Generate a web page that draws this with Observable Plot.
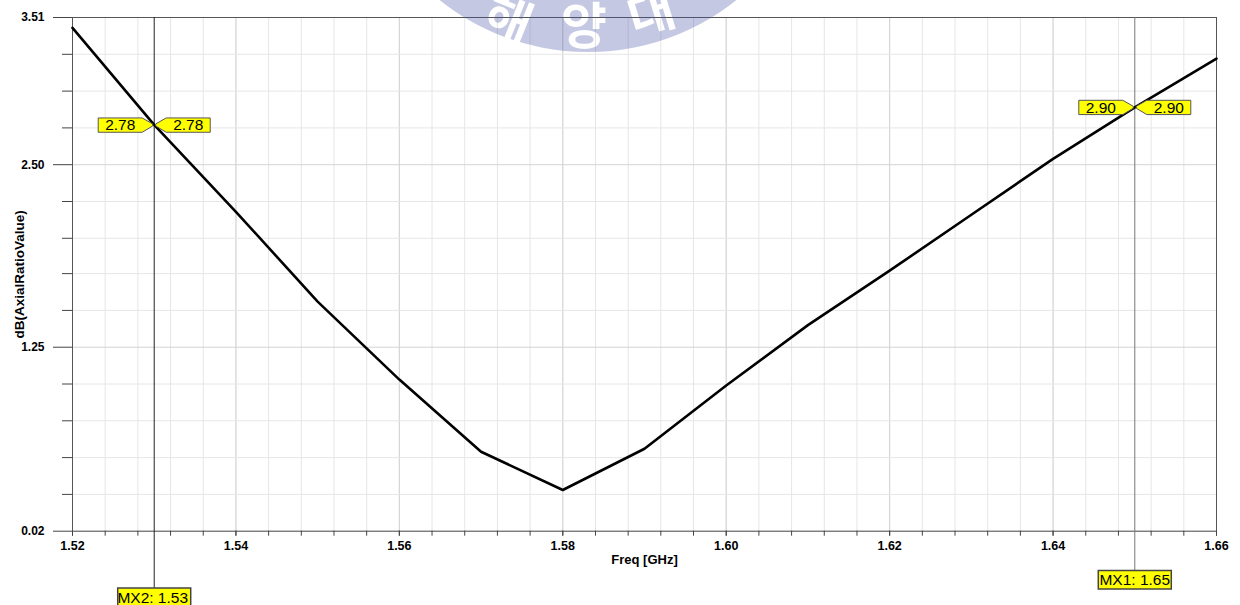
<!DOCTYPE html>
<html><head><meta charset="utf-8">
<script src="https://cdn.jsdelivr.net/npm/d3@7"></script>
<script src="https://cdn.jsdelivr.net/npm/@observablehq/plot@0.6"></script>
<style>
body{margin:0;background:#fff;}
#chart{position:relative;width:1240px;height:605px;overflow:hidden;background:#fff;}
</style>
</head><body><div id="chart"></div>
<script>
// ---- data ----
const freqs = [1.52,1.53,1.54,1.55,1.56,1.57,1.58,1.59,1.60,1.61,1.62,1.63,1.64,1.65,1.66];
const axialRatio = [3.44,2.78,2.19,1.58,1.05,0.56,0.30,0.58,1.01,1.42,1.79,2.17,2.55,2.90,3.23];
const markerNames = ["MX1","MX2"];
const markerFreqs = [1.65,1.53];
const markerValues = [2.90,2.78];
const xMajorTicks = [1.52,1.54,1.56,1.58,1.60,1.62,1.64,1.66];
const xGridTicks = [1.520,1.524,1.528,1.532,1.536,1.540,1.544,1.548,1.552,1.556,1.560,1.564,1.568,1.572,1.576,1.580,1.584,1.588,1.592,1.596,1.600,1.604,1.608,1.612,1.616,1.620,1.624,1.628,1.632,1.636,1.640,1.644,1.648,1.652,1.656,1.660];
const yMajorTicks = [0.02,1.27,2.51,3.51];
const yMajorLabels = ["0.02","1.25","2.50","3.51"];
const yMinorTicks = [0.27,0.52,0.77,1.02,1.52,1.77,2.01,2.26,2.76,3.01,3.26];
const xLabel = "Freq [GHz]";
const yLabel = "dB(AxialRatioValue)";
const watermarkChars = ["해","양","대"];

// ---- build ----
const curve = freqs.map((f,i)=>({f, v: axialRatio[i]}));
const markers = markerNames.map((n,i)=>({name:n, f:markerFreqs[i], v:markerValues[i]}));
const fontFam = "'Liberation Sans', Arial, sans-serif";

const calloutSymbol = { draw(ctx) {
  ctx.moveTo(-56,-7); ctx.lineTo(-12,-7); ctx.lineTo(-1.5,-1); ctx.lineTo(-1.5,1); ctx.lineTo(-12,7.3); ctx.lineTo(-56,7.3); ctx.closePath();
  ctx.moveTo(56,-7); ctx.lineTo(12,-7); ctx.lineTo(1.5,-1); ctx.lineTo(1.5,1); ctx.lineTo(12,7.3); ctx.lineTo(56,7.3); ctx.closePath();
}};
const boxSymbol = { draw(ctx) {
  ctx.moveTo(-36.5,-9.2); ctx.lineTo(36.5,-9.2); ctx.lineTo(36.5,9.2); ctx.lineTo(-36.5,9.2); ctx.closePath();
}};

const mx1 = markers.filter(d=>d.name==="MX1");
const mx2 = markers.filter(d=>d.name==="MX2");

const chart = Plot.plot({
  width: 1240, height: 605,
  marginLeft: 72, marginRight: 24, marginTop: 17, marginBottom: 74.3,
  style: {fontFamily: fontFam, background: "#fff", overflow: "visible"},
  x: {domain: [1.52, 1.66]},
  y: {domain: [0.02, 3.51]},
  marks: [
    Plot.gridX(xGridTicks, {stroke: "#e6e6e6", strokeOpacity: 1}),
    Plot.gridX(xMajorTicks, {stroke: "#d4d4d4", strokeOpacity: 1}),
    Plot.gridY(yMinorTicks, {stroke: "#e6e6e6", strokeOpacity: 1}),
    Plot.gridY(yMajorTicks, {stroke: "#d4d4d4", strokeOpacity: 1}),
    Plot.frame({stroke: "#555"}),
    Plot.axisX(xGridTicks, {tickSize: 5, tickFormat: () => "", label: null, stroke: "#444"}),
    Plot.axisX(xMajorTicks, {tickSize: 5, tickPadding: 5, tickFormat: d3.format(".2f"), label: null,
      fontWeight: "bold", fontSize: 12.5, fill: "#000", stroke: "#444"}),
    Plot.axisY(yMinorTicks, {tickSize: 10, tickFormat: () => "", label: null, stroke: "#444"}),
    Plot.axisY(yMajorTicks, {tickSize: 19, tickPadding: 9, label: null,
      tickFormat: d => yMajorLabels[yMajorTicks.indexOf(d)],
      fontWeight: "bold", fontSize: 12, fill: "#000", stroke: "#444"}),
    Plot.ruleX(mx2, {x: "f", insetBottom: -57, stroke: "#222", strokeWidth: 1}),
    Plot.ruleX(mx1, {x: "f", insetBottom: -39.5, stroke: "#777", strokeWidth: 1}),
    Plot.line(curve, {x: "f", y: "v", stroke: "#000", strokeWidth: 2.6}),
    Plot.dot(markers, {x: "f", y: "v", symbol: calloutSymbol, r: 5, fill: "#ffff00", stroke: "#555", strokeWidth: 1}),
    Plot.text(markers, {x: "f", y: "v", text: d => d.v.toFixed(2), dx: -34, dy: 0.5, fontSize: 15.5, fill: "#000"}),
    Plot.text(markers, {x: "f", y: "v", text: d => d.v.toFixed(2), dx: 34, dy: 0.5, fontSize: 15.5, fill: "#000"}),
    Plot.dot(mx1, {x: "f", frameAnchor: "bottom", dy: 48.6, symbol: boxSymbol, r: 5, fill: "#ffff00", stroke: "#444"}),
    Plot.text(mx1, {x: "f", frameAnchor: "bottom", lineAnchor: "middle", dy: 49, text: d => `${d.name}: ${d.f.toFixed(2)}`, fontSize: 15.5, fill: "#000"}),
    Plot.dot(mx2, {x: "f", frameAnchor: "bottom", dy: 66, symbol: boxSymbol, r: 5, fill: "#ffff00", stroke: "#444"}),
    Plot.text(mx2, {x: "f", frameAnchor: "bottom", lineAnchor: "middle", dy: 66.4, dx: -1.5, text: d => `${d.name}: ${d.f.toFixed(2)}`, fontSize: 15.5, fill: "#000"}),
    Plot.text([xLabel], {frameAnchor: "bottom", lineAnchor: "middle", textAnchor: "middle", dy: 29, text: d => d, fontWeight: "bold", fontSize: 13, fill: "#000"}),
    Plot.text([yLabel], {frameAnchor: "left", lineAnchor: "middle", textAnchor: "middle", dx: -53, rotate: -90, text: d => d, fontWeight: "bold", fontSize: 13.5, fill: "#000"})
  ]
});
document.getElementById("chart").appendChild(chart);

// watermark overlay (decorative)
const svg = d3.select(chart);
const defs = svg.append("defs");
const mask = defs.append("mask").attr("id", "wm-mask").attr("maskUnits", "userSpaceOnUse")
  .attr("x", 0).attr("y", 0).attr("width", 1240).attr("height", 605);
mask.append("rect").attr("width", 1240).attr("height", 605).attr("fill", "white");
const wmPos = [[510, 16, 22], [584, 22, 0], [650, 9, -17]];
watermarkChars.forEach((ch, i) => {
  mask.append("text")
    .attr("transform", `translate(${wmPos[i][0]},${wmPos[i][1]}) rotate(${wmPos[i][2]})`)
    .attr("text-anchor", "middle").attr("dominant-baseline", "central")
    .attr("font-family", "'Noto Sans CJK KR', sans-serif").attr("font-weight", "bold")
    .attr("font-size", 50).attr("fill", "black").text(ch);
});
svg.append("circle").attr("cx", 588).attr("cy", -186).attr("r", 238)
  .attr("fill", "#4a55a8").attr("fill-opacity", 0.32).attr("mask", "url(#wm-mask)");
</script>
</body></html>
